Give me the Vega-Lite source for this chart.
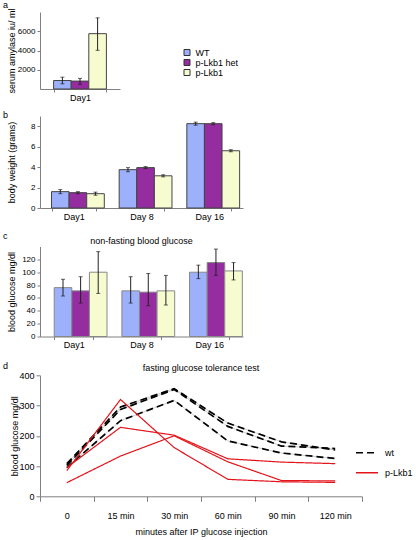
{
  "$schema": "https://vega.github.io/schema/vega-lite/v6.json",
  "background": "white",
  "padding": {"left": 3, "top": 0, "right": 2, "bottom": 0},
  "config": {
    "font": "Liberation Sans",
    "view": {"stroke": null},
    "axis": {"grid": false, "domainColor": "#808080", "tickColor": "#808080", "labelColor": "#000000", "titleColor": "#000000", "titleFontWeight": "normal", "titleFontSize": 9, "labelFontSize": 8, "tickSize": 3, "labelPadding": 2, "labelOverlap": false},
    "axisY": {"minExtent": 21, "maxExtent": 21, "titlePadding": 2.5, "labelOverlap": false},
    "title": {"fontWeight": "normal", "fontSize": 9, "color": "#000000"},
    "legend": {"labelFontSize": 9, "labelColor": "#000000"}
  },
  "datasets": {
    "amylase": [
      {"day": "Day1", "g": "WT", "v": 880, "lo": 540, "hi": 1230},
      {"day": "Day1", "g": "p-Lkb1 het", "v": 820, "lo": 500, "hi": 1100},
      {"day": "Day1", "g": "p-Lkb1", "v": 5750, "lo": 4020, "hi": 7390}
    ],
    "weight": [
      {"day": "Day1", "g": "WT", "v": 1.6, "lo": 1.4, "hi": 1.8},
      {"day": "Day1", "g": "p-Lkb1 het", "v": 1.5, "lo": 1.4, "hi": 1.6},
      {"day": "Day1", "g": "p-Lkb1", "v": 1.4, "lo": 1.25, "hi": 1.55},
      {"day": "Day 8", "g": "WT", "v": 3.75, "lo": 3.55, "hi": 3.95},
      {"day": "Day 8", "g": "p-Lkb1 het", "v": 3.95, "lo": 3.85, "hi": 4.05},
      {"day": "Day 8", "g": "p-Lkb1", "v": 3.15, "lo": 3.05, "hi": 3.25},
      {"day": "Day 16", "g": "WT", "v": 8.25, "lo": 8.1, "hi": 8.4},
      {"day": "Day 16", "g": "p-Lkb1 het", "v": 8.25, "lo": 8.15, "hi": 8.35},
      {"day": "Day 16", "g": "p-Lkb1", "v": 5.6, "lo": 5.5, "hi": 5.7}
    ],
    "glucose": [
      {"day": "Day1", "g": "WT", "v": 76, "lo": 63, "hi": 89},
      {"day": "Day1", "g": "p-Lkb1 het", "v": 71, "lo": 52, "hi": 93},
      {"day": "Day1", "g": "p-Lkb1", "v": 100, "lo": 67, "hi": 132},
      {"day": "Day 8", "g": "WT", "v": 71, "lo": 52, "hi": 93},
      {"day": "Day 8", "g": "p-Lkb1 het", "v": 69, "lo": 48, "hi": 98},
      {"day": "Day 8", "g": "p-Lkb1", "v": 71, "lo": 49, "hi": 95},
      {"day": "Day 16", "g": "WT", "v": 100, "lo": 90, "hi": 111},
      {"day": "Day 16", "g": "p-Lkb1 het", "v": 115, "lo": 95, "hi": 136},
      {"day": "Day 16", "g": "p-Lkb1", "v": 102, "lo": 88, "hi": 115}
    ],
    "gtt": [
      {"id": "w1", "grp": "wt", "t": "0", "glu": 108},
      {"id": "w1", "grp": "wt", "t": "15 min", "glu": 295},
      {"id": "w1", "grp": "wt", "t": "30 min", "glu": 356},
      {"id": "w1", "grp": "wt", "t": "60 min", "glu": 242},
      {"id": "w1", "grp": "wt", "t": "90 min", "glu": 180},
      {"id": "w1", "grp": "wt", "t": "120 min", "glu": 153},
      {"id": "w2", "grp": "wt", "t": "0", "glu": 102},
      {"id": "w2", "grp": "wt", "t": "15 min", "glu": 287},
      {"id": "w2", "grp": "wt", "t": "30 min", "glu": 353},
      {"id": "w2", "grp": "wt", "t": "60 min", "glu": 231},
      {"id": "w2", "grp": "wt", "t": "90 min", "glu": 166},
      {"id": "w2", "grp": "wt", "t": "120 min", "glu": 158},
      {"id": "w3", "grp": "wt", "t": "0", "glu": 95},
      {"id": "w3", "grp": "wt", "t": "15 min", "glu": 250},
      {"id": "w3", "grp": "wt", "t": "30 min", "glu": 317},
      {"id": "w3", "grp": "wt", "t": "60 min", "glu": 183},
      {"id": "w3", "grp": "wt", "t": "90 min", "glu": 143},
      {"id": "w3", "grp": "wt", "t": "120 min", "glu": 125},
      {"id": "r1", "grp": "p-Lkb1", "t": "0", "glu": 85},
      {"id": "r1", "grp": "p-Lkb1", "t": "15 min", "glu": 320},
      {"id": "r1", "grp": "p-Lkb1", "t": "30 min", "glu": 161},
      {"id": "r1", "grp": "p-Lkb1", "t": "60 min", "glu": 56},
      {"id": "r1", "grp": "p-Lkb1", "t": "90 min", "glu": 48},
      {"id": "r1", "grp": "p-Lkb1", "t": "120 min", "glu": 46},
      {"id": "r2", "grp": "p-Lkb1", "t": "0", "glu": 95},
      {"id": "r2", "grp": "p-Lkb1", "t": "15 min", "glu": 228},
      {"id": "r2", "grp": "p-Lkb1", "t": "30 min", "glu": 202},
      {"id": "r2", "grp": "p-Lkb1", "t": "60 min", "glu": 124},
      {"id": "r2", "grp": "p-Lkb1", "t": "90 min", "glu": 113},
      {"id": "r2", "grp": "p-Lkb1", "t": "120 min", "glu": 108},
      {"id": "r3", "grp": "p-Lkb1", "t": "0", "glu": 45},
      {"id": "r3", "grp": "p-Lkb1", "t": "15 min", "glu": 133},
      {"id": "r3", "grp": "p-Lkb1", "t": "30 min", "glu": 200},
      {"id": "r3", "grp": "p-Lkb1", "t": "60 min", "glu": 114},
      {"id": "r3", "grp": "p-Lkb1", "t": "90 min", "glu": 52},
      {"id": "r3", "grp": "p-Lkb1", "t": "120 min", "glu": 51}
    ]
  },
  "spacing": 9,
  "resolve": {"scale": {"color": "independent"}, "legend": {"color": "independent", "strokeDash": "independent"}},
  "vconcat": [
    {
      "title": {"text": "a", "anchor": "start", "frame": "bounds", "dx": -4.5, "offset": -2},
      "spacing": 62.5,
      "resolve": {"scale": {"color": "independent"}, "legend": {"color": "independent"}},
      "hconcat": [
        {
          "width": 80, "height": 77,
          "data": {"name": "amylase"},
          "encoding": {
            "x": {"field": "day", "type": "nominal", "sort": null, "scale": {"paddingInner": 0.34, "paddingOuter": 0.17}, "axis": {"title": null, "labelAngle": 0, "tickBand": "extent", "labelFontSize": 9, "labelPadding": 1}},
            "xOffset": {"field": "g", "type": "nominal", "sort": ["WT", "p-Lkb1 het", "p-Lkb1"], "scale": {"paddingInner": 0, "paddingOuter": 0}},
            "y": {"field": "v", "type": "quantitative", "scale": {"domain": [0, 8000]}, "axis": {"title": "serum amylase iu/ ml", "values": [2000, 4000, 6000], "format": "d", "labelOverlap": false}}
          },
          "layer": [
            {
              "mark": {"type": "bar", "stroke": "#444444", "strokeWidth": 1},
              "encoding": {
                "color": {"field": "g", "type": "nominal", "scale": {"domain": ["WT", "p-Lkb1 het", "p-Lkb1"], "range": ["#9cb0fc", "#952c9f", "#f6fcd0"]}, "legend": null}
              }
            },
            {"mark": {"type": "rule", "color": "#222222", "strokeWidth": 1}, "encoding": {"y": {"field": "lo", "type": "quantitative"}, "y2": {"field": "hi"}}},
            {"mark": {"type": "tick", "color": "#222222", "size": 4, "thickness": 1}, "encoding": {"y": {"field": "lo", "type": "quantitative"}}},
            {"mark": {"type": "tick", "color": "#222222", "size": 4, "thickness": 1}, "encoding": {"y": {"field": "hi", "type": "quantitative"}}}
          ]
        },
        {
          "width": 60, "height": 77,
          "data": {"name": "amylase"},
          "mark": {"type": "square", "opacity": 0},
          "encoding": {
            "color": {"field": "g", "type": "nominal", "sort": ["WT", "p-Lkb1 het", "p-Lkb1"], "scale": {"domain": ["WT", "p-Lkb1 het", "p-Lkb1"], "range": ["#9cb0fc", "#952c9f", "#f6fcd0"]},
              "legend": {"title": null, "orient": "none", "legendX": 0, "legendY": 36, "symbolType": "square", "symbolSize": 36, "symbolStrokeColor": "#333333", "symbolStrokeWidth": 1, "symbolOpacity": 1, "symbolFillOpacity": 1, "labelOffset": 4, "rowPadding": -1}}
          }
        }
      ]
    },
    {
      "spacing": 10.5,
      "resolve": {"scale": {"color": "independent"}, "legend": {"color": "independent", "strokeDash": "independent"}},
      "vconcat": [
        {
          "title": {"text": "b", "anchor": "start", "frame": "bounds", "dx": -4.5, "offset": -4.3},
          "vconcat": [
            {
              "width": 203, "height": 92,
              "data": {"name": "weight"},
              "encoding": {
                "x": {"field": "day", "type": "nominal", "sort": ["Day1", "Day 8", "Day 16"], "scale": {"paddingInner": 0.34, "paddingOuter": 0.17}, "axis": {"title": null, "labelAngle": 0, "tickBand": "extent", "labelFontSize": 9, "labelPadding": 1}},
                "xOffset": {"field": "g", "type": "nominal", "sort": ["WT", "p-Lkb1 het", "p-Lkb1"], "scale": {"paddingInner": 0, "paddingOuter": 0}},
                "y": {"field": "v", "type": "quantitative", "scale": {"domain": [0, 9]}, "axis": {"title": "body weight (grams)", "values": [0, 2, 4, 6, 8], "format": "d", "labelOverlap": false}}
              },
              "layer": [
                {
                  "mark": {"type": "bar", "stroke": "#444444", "strokeWidth": 1},
                  "encoding": {
                    "color": {"field": "g", "type": "nominal", "scale": {"domain": ["WT", "p-Lkb1 het", "p-Lkb1"], "range": ["#9cb0fc", "#952c9f", "#f6fcd0"]}, "legend": null}
                  }
                },
                {"mark": {"type": "rule", "color": "#222222", "strokeWidth": 1}, "encoding": {"y": {"field": "lo", "type": "quantitative"}, "y2": {"field": "hi"}}},
                {"mark": {"type": "tick", "color": "#222222", "size": 4, "thickness": 1}, "encoding": {"y": {"field": "lo", "type": "quantitative"}}},
                {"mark": {"type": "tick", "color": "#222222", "size": 4, "thickness": 1}, "encoding": {"y": {"field": "hi", "type": "quantitative"}}}
              ]
            }
          ]
        },
        {
          "spacing": 12.8,
          "resolve": {"scale": {"color": "independent"}, "legend": {"color": "independent", "strokeDash": "independent"}},
          "vconcat": [
            {
              "title": {"text": "c", "anchor": "start", "frame": "bounds", "dx": -4.5, "offset": -4.5},
              "vconcat": [
                {
                  "width": 203, "height": 90,
                  "title": {"text": "non-fasting blood glucose", "anchor": "middle", "offset": 1},
                  "data": {"name": "glucose"},
                  "encoding": {
                    "x": {"field": "day", "type": "nominal", "sort": ["Day1", "Day 8", "Day 16"], "scale": {"paddingInner": 0.42, "paddingOuter": 0.21}, "axis": {"title": null, "labelAngle": 0, "tickBand": "extent", "labelFontSize": 9, "labelPadding": 1}},
                    "xOffset": {"field": "g", "type": "nominal", "sort": ["WT", "p-Lkb1 het", "p-Lkb1"], "scale": {"paddingInner": 0, "paddingOuter": 0}},
                    "y": {"field": "v", "type": "quantitative", "scale": {"domain": [0, 140]}, "axis": {"title": "blood glucose mg/dl", "values": [0, 20, 40, 60, 80, 100, 120], "format": "d", "labelOverlap": false}}
                  },
                  "layer": [
                    {
                      "mark": {"type": "bar", "stroke": "#888888", "strokeWidth": 1},
                      "encoding": {
                        "color": {"field": "g", "type": "nominal", "scale": {"domain": ["WT", "p-Lkb1 het", "p-Lkb1"], "range": ["#9cb0fc", "#952c9f", "#f6fcd0"]}, "legend": null}
                      }
                    },
                    {"mark": {"type": "rule", "color": "#222222", "strokeWidth": 1}, "encoding": {"y": {"field": "lo", "type": "quantitative"}, "y2": {"field": "hi"}}},
                    {"mark": {"type": "tick", "color": "#222222", "size": 4, "thickness": 1}, "encoding": {"y": {"field": "lo", "type": "quantitative"}}},
                    {"mark": {"type": "tick", "color": "#222222", "size": 4, "thickness": 1}, "encoding": {"y": {"field": "hi", "type": "quantitative"}}}
                  ]
                }
              ]
            },
            {
              "title": {"text": "d", "anchor": "start", "frame": "bounds", "dx": -7.5, "offset": -7},
              "resolve": {"scale": {"color": "independent"}, "legend": {"color": "independent", "strokeDash": "independent"}},
              "vconcat": [
                {
                  "width": 322, "height": 121,
                  "title": {"text": "fasting glucose tolerance test", "anchor": "middle", "offset": -2},
                  "data": {"name": "gtt"},
                  "encoding": {
                    "x": {"field": "t", "type": "ordinal", "sort": ["0", "15 min", "30 min", "60 min", "90 min", "120 min"], "bandPosition": 0.5, "scale": {"type": "band", "paddingInner": 0, "paddingOuter": 0},
                      "axis": {"title": "minutes after IP glucose injection", "labelAngle": 0, "tickBand": "extent", "tickSize": 5, "labelPadding": 10.5, "titlePadding": 7, "labelFontSize": 9, "labelDx": -4}},
                    "y": {"field": "glu", "type": "quantitative", "scale": {"domain": [0, 400]}, "axis": {"title": "blood glucose mg/dl", "values": [0, 100, 200, 300, 400], "format": "d", "labelFontSize": 9, "tickSize": 4, "minExtent": 18, "maxExtent": 18}},
                    "detail": {"field": "id"}
                  },
                  "layer": [
                    {"transform": [{"filter": "datum.grp == 'wt'"}], "mark": {"type": "line", "color": "#cfcfcf", "strokeWidth": 1}},
                    {
                      "mark": {"type": "line"},
                      "encoding": {
                        "color": {"field": "grp", "type": "nominal", "scale": {"domain": ["wt", "p-Lkb1"], "range": ["#000000", "#e3141b"]},
                          "legend": {"title": null, "orient": "none", "legendX": 315, "legendY": 65.5, "symbolType": "stroke", "symbolSize": 484, "symbolStrokeWidth": 1.5, "labelOffset": 6, "rowPadding": 3}},
                        "strokeDash": {"field": "grp", "type": "nominal", "scale": {"domain": ["wt", "p-Lkb1"], "range": [[7, 4], [1, 0]]},
                          "legend": {"title": null, "orient": "none", "legendX": 315, "legendY": 65.5, "symbolType": "stroke", "symbolSize": 484, "symbolStrokeWidth": 1.5, "labelOffset": 6, "rowPadding": 3}},
                        "strokeWidth": {"field": "grp", "type": "nominal", "scale": {"domain": ["wt", "p-Lkb1"], "range": [1.7, 1.2]}, "legend": null}
                      }
                    }
                  ]
                }
              ]
            }
          ]
        }
      ]
    }
  ]
}
